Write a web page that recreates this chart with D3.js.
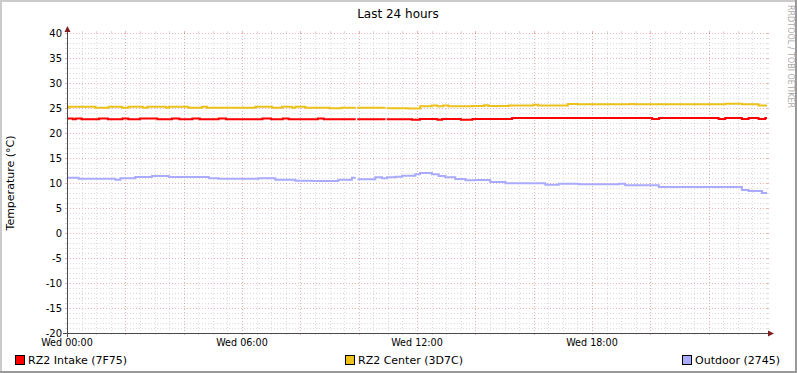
<!DOCTYPE html>
<html>
<head>
<meta charset="utf-8">
<script src="https://cdn.jsdelivr.net/npm/d3@7"></script>
<style>
body { margin: 0; background: #fff; }
svg { display: block; font-family: "DejaVu Sans", sans-serif; }
</style>
</head>
<body>
<div id="chart"></div>
<script>
// chart texts
const title = 'Last 24 hours';
const yLabel = 'Temperature (°C)';
const watermark = 'RRDTOOL / TOBI OETIKER';
const seriesNames = ['RZ2 Intake (7F75)', 'RZ2 Center (3D7C)', 'Outdoor (2745)'];
const seriesColors = ['#ff0000', '#ecc11c', '#aaaaff'];
const labelHours = [0, 6, 12, 18];

// step data: [hours since Wed 00:00, °C], null = no data
const intake = [
	[0, 22.9], [0.2, 22.75], [0.3, 22.9], [0.5, 22.75], [1.1, 22.9], [1.4, 22.75],
	[1.9, 22.9], [2.1, 22.75], [2.5, 22.9], [3.1, 22.75], [3.6, 22.9], [3.85, 22.75],
	[4.3, 22.9], [4.55, 22.75], [5.2, 22.9], [5.45, 22.75], [6.7, 22.9], [7.0, 22.75],
	[7.4, 22.9], [7.6, 22.75], [8.6, 22.9], [8.8, 22.75], [9.9, null], [9.95, 22.75],
	[10.92, null], [10.96, 22.75], [11.83, 22.65], [12.1, 22.8], [12.7, 22.65], [12.86, 22.8],
	[13.5, 22.65], [13.9, 22.8], [15.26, 23.0], [20.06, 22.8], [20.3, 23.0], [22.34, 22.8],
	[22.57, 23.0], [23.14, 22.8], [23.37, 23.0], [23.71, 22.8], [23.94, 23.0], [24, 23.0]
];
const center = [
	[0, 25.05], [0.06, 25.25], [0.97, 25.05], [1.43, 25.25], [1.89, 25.05], [2.11, 25.25],
	[2.6, 25.05], [2.75, 25.25], [3.4, 25.05], [3.5, 25.25], [4.17, 25.05], [4.63, 25.25],
	[4.8, 25.05], [6.46, 25.25], [7.03, 25.05], [7.37, 25.25], [7.71, 25.05], [7.83, 25.25],
	[8.17, 25.05], [9.0, 24.95], [9.4, 25.05], [9.9, null], [9.95, 25.05], [10.92, null],
	[10.96, 24.95], [11.71, 24.9], [12.11, 25.33], [12.51, 25.5], [12.7, 25.33], [12.9, 25.5],
	[13.08, 25.33], [13.89, 25.4], [14.3, 25.55], [14.45, 25.4], [15.14, 25.5], [16.0, 25.65],
	[16.15, 25.5], [17.17, 25.8], [17.51, 25.73], [19.3, 25.8], [19.45, 25.73], [22.57, 25.87],
	[23.14, 25.73], [23.71, 25.5], [24, 25.5]
];
const outdoor = [
	[0, 11.07], [0.4, 10.87], [1.66, 10.67], [1.83, 10.93], [2.34, 11.2], [2.91, 11.4],
	[3.49, 11.2], [4.86, 10.93], [5.2, 10.87], [6.57, 10.93], [7.14, 10.67], [7.83, 10.47],
	[8.4, 10.4], [9.3, 10.67], [9.77, 11.07], [9.9, null], [9.96, 10.73], [10.57, 11.13],
	[10.8, 10.93], [10.97, 11.13], [11.26, 11.27], [11.49, 11.47], [11.94, 11.73], [12.1, 12.0],
	[12.51, 11.73], [12.74, 11.4], [12.97, 11.13], [13.31, 10.8], [13.66, 10.53], [14.0, 10.6],
	[14.51, 10.2], [15.03, 9.93], [16.4, 9.67], [16.86, 9.87], [17.54, 9.73], [18.92, 9.87],
	[19.14, 9.53], [20.29, 9.2], [23.14, 8.6], [23.37, 8.4], [23.83, 8.0], [24, 8.0]
];
const series = [intake, center, outdoor];

const width = 797, height = 373;
const X0 = 67, X1 = 767, Y0 = 333, Y1 = 33;
const start = new Date(2024, 0, 3); // a Wednesday
const toDate = (h) => new Date(start.getTime() + h * 3600e3);

const svg = d3.select('#chart').append('svg')
	.attr('width', width)
	.attr('height', height);

// frame
svg.append('rect').attr('width', width).attr('height', height).attr('fill', '#fff');
svg.append('path').attr('d', `M0,0H${width}V2H2V${height}H0Z`).attr('fill', '#cbcbcb');
svg.append('path').attr('d', `M${width},${height}H0V${height - 2}H${width - 2}V0H${width}Z`).attr('fill', '#999');

const x = d3.scaleTime().domain([start, toDate(24)]).range([X0, X1]);
const y = d3.scaleLinear().domain([-20, 40]).range([Y0, Y1]);
const px = (v) => Math.round(v) + 0.5;

const grid = svg.append('g').attr('shape-rendering', 'crispEdges');
const minorCol = 'rgba(140,140,140,0.3)';
const majorCol = 'rgba(200,60,60,0.4)';

// horizontal grid
d3.range(-20, 41, 1).forEach((v) => {
	const major = v % 5 === 0;
	const col = major ? majorCol : minorCol;
	const yy = px(y(v));
	grid.append('line').attr('x1', X0).attr('x2', X1).attr('y1', yy).attr('y2', yy)
		.attr('stroke', col).attr('stroke-dasharray', '1,2');
	grid.append('line').attr('x1', X0 - 2).attr('x2', X0).attr('y1', yy).attr('y2', yy).attr('stroke', col);
	grid.append('line').attr('x1', X1).attr('x2', X1 + 2).attr('y1', yy).attr('y2', yy).attr('stroke', col);
});

// vertical grid
x.ticks(d3.timeMinute.every(30)).filter((d) => x(d) < X1 - 1).forEach((d) => {
	const major = d.getMinutes() === 0 && d.getHours() % 2 === 0;
	const col = major ? majorCol : minorCol;
	const xx = px(x(d));
	grid.append('line').attr('x1', xx).attr('x2', xx).attr('y1', Y1).attr('y2', Y0)
		.attr('stroke', col).attr('stroke-dasharray', '1,2');
	grid.append('line').attr('x1', xx).attr('x2', xx).attr('y1', Y0).attr('y2', Y0 + 2).attr('stroke', col);
	grid.append('line').attr('x1', xx).attr('x2', xx).attr('y1', Y1 - 2).attr('y2', Y1).attr('stroke', col);
});

// data lines, drawn as steps
const line = d3.line()
	.defined((d) => d[1] != null)
	.x((d) => x(toDate(d[0])))
	.y((d) => y(d[1]));

series.forEach((s, i) => {
	const pts = [];
	s.forEach((d, j) => {
		if (j === s.length - 1) return;
		pts.push([d[0], d[1]], [s[j + 1][0], d[1]]);
	});
	svg.append('path')
		.datum(pts)
		.attr('fill', 'none')
		.attr('stroke', seriesColors[i])
		.attr('stroke-width', 2)
		.attr('d', line);
});

// axes
const axisCol = '#4a4a4a', arrowCol = '#7f1f1f';
svg.append('line').attr('x1', X0 - 4).attr('x2', X1 + 3).attr('y1', Y0 + 0.5).attr('y2', Y0 + 0.5).attr('stroke', axisCol);
svg.append('line').attr('x1', X0 + 0.5).attr('x2', X0 + 0.5).attr('y1', Y0 + 4).attr('y2', Y1 - 3).attr('stroke', axisCol);
svg.append('path').attr('d', `M${X1 + 1},${Y0 - 2.5}L${X1 + 7},${Y0 + 0.5}L${X1 + 1},${Y0 + 3.5}Z`).attr('fill', arrowCol);
svg.append('path').attr('d', `M${X0 - 2.5},${Y1 - 1}L${X0 + 0.5},${Y1 - 7}L${X0 + 3.5},${Y1 - 1}Z`).attr('fill', arrowCol);

// y tick labels
svg.append('g').selectAll('text')
	.data(d3.range(-20, 41, 5))
	.join('text')
	.attr('x', 62)
	.attr('y', (d) => y(d))
	.attr('dy', '0.36em')
	.attr('text-anchor', 'end')
	.attr('font-size', 10)
	.text((d) => d);

// x tick labels
const fmt = d3.timeFormat('%a %H:%M');
svg.append('g').selectAll('text')
	.data(labelHours.map(toDate))
	.join('text')
	.attr('x', (d) => x(d))
	.attr('y', 346)
	.attr('text-anchor', 'middle')
	.attr('font-size', 9.6)
	.text((d) => fmt(d));

// title, axis label, watermark
svg.append('text').attr('x', 398).attr('y', 18).attr('text-anchor', 'middle')
	.attr('font-size', 12).text(title);
svg.append('text').attr('transform', `translate(14,${(Y0 + Y1) / 2}) rotate(-90)`)
	.attr('text-anchor', 'middle').attr('font-size', 11).text(yLabel);
svg.append('text').attr('transform', 'translate(788,5) rotate(90)')
	.attr('font-size', 8).attr('fill', '#aaa').text(watermark);

// legend
const legendX = [15, 345, 682];
const legend = svg.append('g').selectAll('g')
	.data(seriesNames)
	.join('g')
	.attr('transform', (d, i) => `translate(${legendX[i]},355)`);
legend.append('rect')
	.attr('x', 0.5).attr('y', 0.5).attr('width', 9).attr('height', 9)
	.attr('fill', (d, i) => seriesColors[i])
	.attr('stroke', '#000');
legend.append('text')
	.attr('x', 13).attr('y', 9)
	.attr('font-size', 11)
	.text((d) => d);
</script>
</body>
</html>
